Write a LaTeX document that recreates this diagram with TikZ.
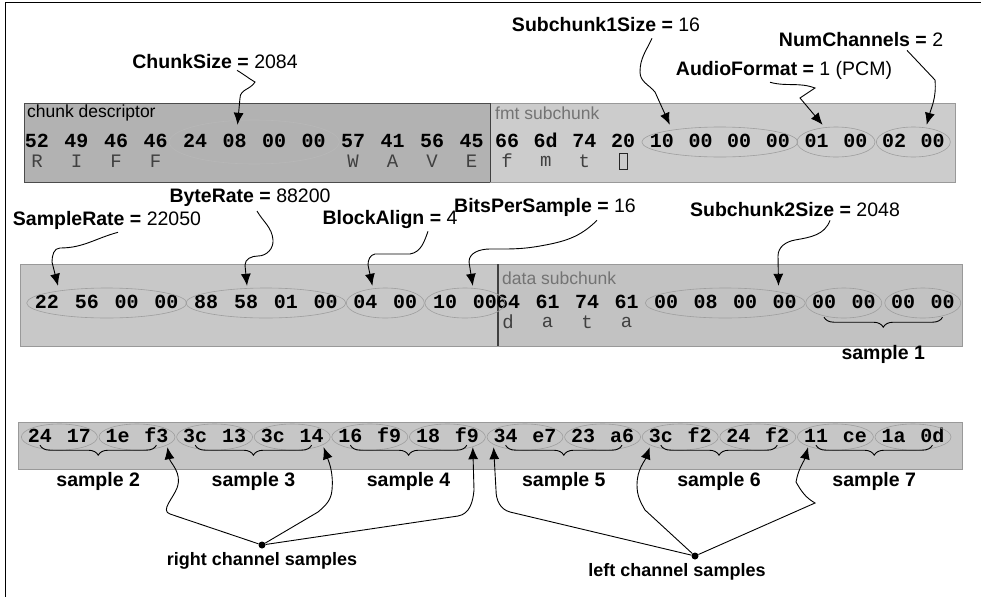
\documentclass[tikz,border=0pt]{standalone}
\usepackage{fontspec}
\setmainfont{Liberation Sans}
\setmonofont{Liberation Mono}
\usetikzlibrary{arrows.meta,calc,positioning,decorations.pathreplacing}

\tikzset{
    byte/.style={font=\ttfamily\bfseries\fontsize{20}{20}\selectfont, inner sep=2pt, text height=10pt, text depth=0pt},
    ascii/.style={font=\ttfamily\fontsize{19}{19}\selectfont, text=black!75, inner sep=0pt},
    field/.style={font=\fontsize{19.5}{20}\selectfont, inner sep=1pt},
    tag/.style={font=\fontsize{17.5}{17.5}\selectfont, inner sep=0pt, anchor=west},
    grp/.style={draw=black!38, line width=0.6pt},
    conn/.style={-{Latex[length=12pt,width=10pt]}, line width=0.9pt},
    brc/.style={decorate, decoration={brace, mirror, amplitude=10pt}, line width=0.9pt},
    smp/.style={font=\bfseries\fontsize{19.5}{20}\selectfont, inner sep=0pt},
    chan/.style={font=\bfseries\fontsize{18}{18}\selectfont, inner sep=0pt},
    dot/.style={circle, fill, inner sep=0pt, minimum size=7pt}
}

\begin{document}
\begin{tikzpicture}[x=1pt,y=-1pt]
        \useasboundingbox (0,0) rectangle (981,597);
        \draw[line width=1pt] (981,2) -- (5,2) -- (5,597);

        % header boxes
        \draw[fill=gray!60, draw=black!70] (24,103) rectangle (490,182);
        \draw[fill=gray!40, draw=black!40] (490,103) rectangle (955,182);
        \draw[black!75, line width=1pt] (490,103) -- (490,182);
        \node[tag] (cdtag) at (27,113) {chunk descriptor};
        \node[tag, text=black!55] (fmttag) at (495,113) {fmt subchunk};

        \draw[fill=gray!43, draw=black!40] (20,264) rectangle (498,346);
        \draw[fill=gray!48, draw=black!40] (498,264) rectangle (962,346);
        \draw[black!75, line width=1.2pt] (498,264) -- (498,346);
        \node[tag, text=black!55] (dattag) at (502,278) {data subchunk};

        \draw[fill=gray!45, draw=black!40] (18,422) rectangle (962,469);

        % bytes
        \foreach \hx [count=\i] in {52,49,46,46,24,08,00,00,57,41,56,45}
            \node[byte] (cd\i) at ({37+39.5*(\i-1)},142) {\hx};
        \foreach \hx [count=\i] in {66,6d,74,20,10,00,00,00,01,00,02,00}
            \node[byte] (fmt\i) at ({507+38.7*(\i-1)},142) {\hx};
        \foreach \hx [count=\i] in {22,56,00,00,88,58,01,00,04,00,10,00}
            \node[byte] (c\i) at ({47+39.8*(\i-1)},303) {\hx};
        \foreach \hx [count=\i] in {64,61,74,61,00,08,00,00,00,00,00,00}
            \node[byte] (dat\i) at ({508+39.5*(\i-1)},303) {\hx};
        \foreach \hx [count=\i] in {24,17,1e,f3,3c,13,3c,14,16,f9,18,f9,34,e7,23,a6,3c,f2,24,f2,11,ce,1a,0d}
            \node[byte] (smp\i) at ({40+38.8*(\i-1)},437) {\hx};

        \foreach \ch/\i in {R/1,I/2,F/3,F/4,W/9,A/10,V/11,E/12}
            \node[ascii] (cda\i) at ([yshift=-19pt]cd\i) {\ch};
        \foreach \ch/\i in {f/1,m/2,t/3}
            \node[ascii] (fmta\i) at ([yshift=-19pt]fmt\i) {\ch};
        \node[draw=black!85, line width=0.7pt, minimum width=8pt, minimum height=16pt, inner sep=0pt] (fmta4) at ([yshift=-19pt]fmt4) {};
        \foreach \ch/\i in {d/1,a/2,t/3,a/4}
            \node[ascii] (data\i) at ([yshift=-19pt]dat\i) {\ch};

        % groups
        \draw[grp, draw=black!28] ($(cd5)!.5!(cd8)$) ellipse [x radius=85pt, y radius=22pt];
        \foreach \f/\l/\rx in {fmt5/fmt8/78pt, fmt9/fmt10/39pt, fmt11/fmt12/37pt, c1/c4/80pt, c5/c8/80pt, c9/c10/39pt, c11/c12/40pt, dat5/dat8/80pt, dat9/dat10/38pt, dat11/dat12/38pt}
            \draw[grp] ($(\f)!.5!(\l)$) ellipse [x radius=\rx, y radius=15pt];
        \foreach \k in {1,3,...,23} {
            \pgfmathtruncatemacro\m{\k+1}
            \draw[grp] ($(smp\k)!.5!(smp\m)$) ellipse [x radius=38pt, y radius=13pt];
        }

        % samples
        \draw[brc] ([yshift=-7pt]dat9.south) -- ([yshift=-7pt]dat12.south) node[smp, midway, below=28pt] (s1) {sample 1};
        \foreach \s [count=\k from 2] in {1,5,9,13,17,21} {
            \pgfmathtruncatemacro\e{\s+3}
            \draw[brc] ([yshift=-1pt]smp\s.south) -- ([yshift=-1pt]smp\e.south) node[smp, midway, below=27pt] (s\k) {sample \k};
        }

        % field labels
        \node[field] (chunksize) at (215,62) {\textbf{ChunkSize =} 2084};
        \node[field] (sub1) at (606,25) {\textbf{Subchunk1Size =} 16};
        \node[field] (numch) at (861,40) {\textbf{NumChannels =} 2};
        \node[field] (aufmt) at (784,70) {\textbf{AudioFormat =} 1 (PCM)};
        \node[field] (smprate) at (107,220) {\textbf{SampleRate =} 22050};
        \node[field] (byterate) at (250,198) {\textbf{ByteRate =} 88200};
        \node[field] (blkalign) at (390,219) {\textbf{BlockAlign =} 4};
        \node[field] (bitsps) at (545,207) {\textbf{BitsPerSample =} 16};
        \node[field] (sub2) at (795,210) {\textbf{Subchunk2Size =} 2048};

        % arrows
        \draw[conn] ([xshift=22pt]chunksize.south) to[out=-30,in=150] (255,82) to[out=-120,in=90] (240,98) -- ([xshift=3pt,yshift=10pt]cd6.north);
        \draw[conn] ([xshift=46pt,yshift=-5pt]sub1.south) to[out=-115,in=90] (640,72) to[out=-90,in=130] (655,92) -- ([xshift=8pt,yshift=10pt]fmt5.north);
        \draw[conn] ([xshift=-14pt,yshift=-2pt]aufmt.south) to[out=-15,in=160] (815,88) -- (800,98) -- ([xshift=6pt,yshift=10pt]fmt9.north);
        \draw[conn] ([xshift=46pt,yshift=-2pt]numch.south) -- (935,80) to[out=-85,in=75] ([xshift=-6pt,yshift=10pt]fmt12.north);

        \draw[conn] ([xshift=11pt,yshift=-2pt]smprate.south) to[out=195,in=0] (60,248) to[out=180,in=90] (52,262) -- ([xshift=11pt,yshift=10pt]c1.north);
        \draw[conn] ([xshift=7pt,yshift=-3pt]byterate.south) to[out=-60,in=95] (273,240) to[out=-85,in=0] (258,256) to[out=180,in=90] (245,265) -- ([xshift=1pt,yshift=10pt]c6.north);
        \draw[conn] ([xshift=38pt,yshift=-2pt]blkalign.south) to[out=-110,in=10] (410,254) -- (375,254) to[out=190,in=90] (368,265) -- ([xshift=7pt,yshift=10pt]c9.north);
        \draw[conn] ([xshift=52pt,yshift=-3pt]bitsps.south) to[out=-135,in=10] (540,246) to[out=190,in=0] (490,249) to[out=180,in=90] (469,262) -- ([xshift=-12pt,yshift=10pt]c12.north);
        \draw[conn] ([xshift=35pt,yshift=-2pt]sub2.south) to[out=-110,in=10] (795,240) to[out=190,in=90] (778,256) -- ([xshift=-6pt,yshift=10pt]dat8.north);

        % channels
        \node[dot] (rdot) at (262,545) {};
        \node[chan, below=4pt of rdot] (rlbl) {right channel samples};
        \node[dot] (ldot) at (695,556) {};
        \node[chan, below=4pt of ldot, xshift=-18pt] (llbl) {left channel samples};

        \draw[conn] (rdot) -- (170,514) to[out=162,in=-110] (177,488) to[out=70,in=-80] ([xshift=11pt,yshift=-3pt]smp4.south);
        \draw[conn] (rdot) -- (318,512) to[out=40,in=-95] (332,490) to[out=85,in=-70] ([xshift=12pt,yshift=-3pt]smp8.south);
        \draw[conn] (rdot) -- (458,516) to[out=10,in=-95] (474,490) -- ([xshift=6pt,yshift=-3pt]smp12.south);
        \draw[conn] (ldot) -- (510,512) to[out=165,in=-90] (496,490) -- ([xshift=-12pt,yshift=-3pt]smp13.south);
        \draw[conn] (ldot) -- (645,510) to[out=120,in=-90] (637,485) to[out=90,in=-110] ([xshift=-11pt,yshift=-3pt]smp17.south);
        \draw[conn] (ldot) -- (815,503) to[out=150,in=-60] (796,482) to[out=80,in=-105] ([xshift=-8pt,yshift=-3pt]smp21.south);
\end{tikzpicture}
\end{document}
